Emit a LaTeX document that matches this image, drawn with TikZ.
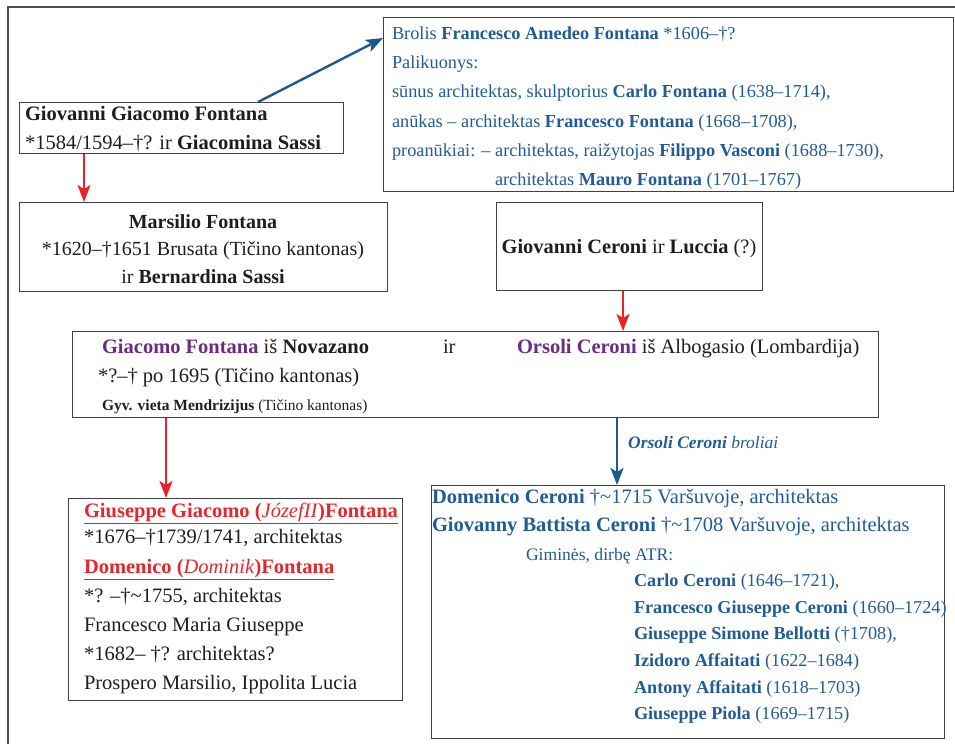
\documentclass[tikz,border=0pt]{standalone}
\usepackage{fontspec}
\setmainfont{Liberation Serif}
\usetikzlibrary{arrows.meta}
\definecolor{txtblue}{RGB}{33,92,148}
\definecolor{arrblue}{RGB}{28,88,145}
\definecolor{arrred}{RGB}{232,35,42}
\definecolor{txtred}{RGB}{226,40,46}
\definecolor{txtpurple}{RGB}{106,45,130}
\definecolor{boxgray}{RGB}{64,64,64}
\definecolor{framegray}{RGB}{80,80,80}
\definecolor{txtblack}{RGB}{30,30,30}
\newcommand{\fsz}[1]{\fontsize{#1}{#1}\selectfont}
\begin{document}
\begin{tikzpicture}[x=1pt,y=-1pt,
  box/.style={draw=boxgray,line width=1.3pt,inner sep=0pt,anchor=north west},
  txt/.style={anchor=base west,inner sep=0pt,outer sep=0pt,text=txtblack},
  ctxt/.style={anchor=base,inner sep=0pt,outer sep=0pt,text=txtblack},
  redarr/.style={draw=arrred,line width=2.4pt,-{Stealth[length=17pt,width=13pt,inset=4pt]}},
  bluearr/.style={draw=arrblue,line width=2.4pt,-{Stealth[length=17pt,width=13pt,inset=4pt]}}]
\useasboundingbox (0,0) rectangle (955,744);
\fill[white] (0,0) rectangle (955,744);
% outer frame (left and top edges)
\draw[framegray,line width=1.3pt] (8,744) -- (8,7) -- (955,7);
% boxes
\node[box,minimum width=324pt,minimum height=51pt] (A) at (19,102) {};
\node[box,minimum width=570pt,minimum height=174pt] (B) at (383,17) {};
\node[box,minimum width=368pt,minimum height=89pt] (C) at (19,202) {};
\node[box,minimum width=266pt,minimum height=88pt] (D) at (496,202) {};
\node[box,minimum width=806pt,minimum height=86pt] (E) at (72,331) {};
\node[box,minimum width=334pt,minimum height=202pt] (F) at (68,498) {};
\node[box,minimum width=513pt,minimum height=253pt] (G) at (431,485) {};
% box A text
\node[txt,font=\fsz{20.5}] (a1) at (25,120) {\textbf{Giovanni Giacomo Fontana}};
\node[txt,font=\fsz{20.5}] (a2) at (25,149) {*1584/1594–†? ir \textbf{Giacomina Sassi}};
% box B text
\begin{scope}[every node/.style={txt,font=\fsz{18.3},text=txtblue}]
\node (b1) at (392,39) {Brolis \textbf{Francesco Amedeo Fontana} *1606–†?};
\node (b2) at (392,68) {Palikuonys:};
\node (b3) at (392,97) {sūnus architektas, skulptorius \textbf{Carlo Fontana} (1638–1714),};
\node (b4) at (392,127) {anūkas – architektas \textbf{Francesco Fontana} (1668–1708),};
\node (b5) at (392,156) {proanūkiai: – architektas, raižytojas \textbf{Filippo Vasconi} (1688–1730),};
\node (b6) at (495,185) {architektas \textbf{Mauro Fontana} (1701–1767)};
\end{scope}
% box C text
\node[ctxt,font=\fsz{20}] (c1) at (203,228) {\textbf{Marsilio Fontana}};
\node[ctxt,font=\fsz{20}] (c2) at (203,255) {*1620–†1651 Brusata (Tičino kantonas)};
\node[ctxt,font=\fsz{20}] (c3) at (203,283) {ir \textbf{Bernardina Sassi}};
% box D text
\node[ctxt,font=\fsz{20.4}] (d1) at (629,253) {\textbf{Giovanni Ceroni} ir \textbf{Luccia} (?)};
% box E text
\node[txt,font=\fsz{20.5}] (e1) at (102,353) {\textbf{\textcolor{txtpurple}{Giacomo Fontana}} iš \textbf{Novazano}};
\node[txt,font=\fsz{20.5}] (e2) at (443,353) {ir};
\node[txt,font=\fsz{20.5}] (e3) at (517,353) {\textbf{\textcolor{txtpurple}{Orsoli Ceroni}} iš Albogasio (Lombardija)};
\node[txt,font=\fsz{20.5}] (e4) at (98,382) {*?–† po 1695 (Tičino kantonas)};
\node[txt,font=\fsz{15.5}] (e5) at (102,410) {\textbf{Gyv. vieta Mendrizijus} (Tičino kantonas)};
% box F text
\node[txt,font=\fsz{20.5},text=txtred] (f1) at (84,517) {\underline{\textbf{Giuseppe Giacomo (}\textit{JózefII}\textbf{)Fontana}}};
\node[txt,font=\fsz{20.5}] (f2) at (84,543) {*1676–†1739/1741, architektas};
\node[txt,font=\fsz{20.5},text=txtred] (f3) at (84,573) {\underline{\textbf{Domenico (}\textit{Dominik}\textbf{)Fontana}}};
\node[txt,font=\fsz{20.5}] (f4) at (84,602) {*? –†\textasciitilde 1755, architektas};
\node[txt,font=\fsz{20.5}] (f5) at (84,631) {Francesco Maria Giuseppe};
\node[txt,font=\fsz{20.5}] (f6) at (84,660) {*1682– †? architektas?};
\node[txt,font=\fsz{20.5}] (f7) at (84,689) {Prospero Marsilio, Ippolita Lucia};
% box G text
\begin{scope}[every node/.style={txt,text=txtblue}]
\node[font=\fsz{20.5}] (g1) at (432,503) {\textbf{Domenico Ceroni} †\textasciitilde 1715 Varšuvoje, architektas};
\node[font=\fsz{20.5}] (g2) at (432,531) {\textbf{Giovanny Battista Ceroni} †\textasciitilde 1708 Varšuvoje, architektas};
\node[font=\fsz{17.6}] (g3) at (526,560) {Giminės, dirbę ATR:};
\node[font=\fsz{18.2}] (g4) at (634,586) {\textbf{Carlo Ceroni} (1646–1721),};
\node[font=\fsz{18.2}] (g5) at (634,613) {\textbf{Francesco Giuseppe Ceroni} (1660–1724)};
\node[font=\fsz{18.2}] (g6) at (634,639) {\textbf{Giuseppe Simone Bellotti} (†1708),};
\node[font=\fsz{18.2}] (g7) at (634,666) {\textbf{Izidoro Affaitati} (1622–1684)};
\node[font=\fsz{18.2}] (g8) at (634,693) {\textbf{Antony Affaitati} (1618–1703)};
\node[font=\fsz{18.2}] (g9) at (634,719) {\textbf{Giuseppe Piola} (1669–1715)};
\end{scope}
% connector helper coordinates
\coordinate (xAB) at (258,0);
\coordinate (yAB) at (0,38);
\coordinate (xAC) at (84,0);
\coordinate (xDE) at (623,0);
\coordinate (xEF) at (166,0);
\coordinate (xEG) at (617,0);
% connectors
\draw[bluearr] (A.north -| xAB) -- (B.west |- yAB);
\draw[redarr] (A.south -| xAC) -- (C.north -| xAC);
\draw[redarr] (D.south -| xDE) -- (E.north -| xDE);
\draw[redarr] (E.south -| xEF) -- (F.north -| xEF);
\draw[bluearr] (E.south -| xEG) -- (G.north -| xEG)
  node[pos=0.36,right=10pt,inner sep=0pt,font=\fsz{17.5},text=txtblue] (lab) {\textbf{\textit{Orsoli Ceroni}} \textit{broliai}};
\end{tikzpicture}
\end{document}
